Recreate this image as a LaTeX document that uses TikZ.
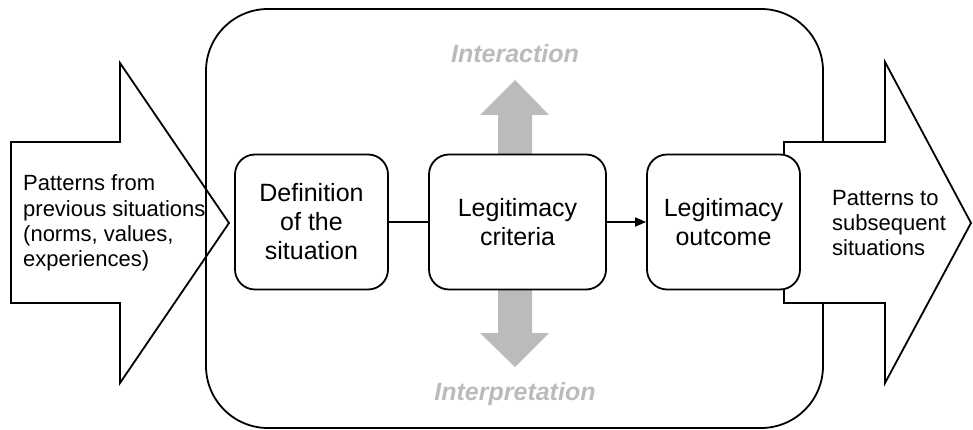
\documentclass[tikz,border=0pt]{standalone}
\usepackage{fontspec}
\setmainfont{Liberation Sans}
\usetikzlibrary{arrows.meta}
\definecolor{lightgray}{HTML}{BBBBBB}
\begin{document}
\begin{tikzpicture}[x=1pt,y=-1pt,
  outline/.style={draw=black,line width=1.8pt},
  stagebox/.style={outline,fill=white,rounded corners=20pt,align=center,
    font=\fontsize{25}{29}\selectfont,inner sep=0pt},
  sidetext/.style={align=left,font=\fontsize{22}{25.3}\selectfont,inner sep=0pt,anchor=west},
  graytext/.style={text=lightgray,font=\fontsize{25}{29}\selectfont\bfseries\itshape,inner sep=0pt,anchor=base},
  grayarrow/.style={fill=lightgray,draw=none}
]
\useasboundingbox (0,0) rectangle (973,430);
% incoming arrow
\draw[outline,fill=white] (11,142) -- (120,142) -- (120,63) -- (229,223) -- (120,383) -- (120,303) -- (11,303) -- cycle;
% frame
\draw[outline,rounded corners=62pt] (206,9) rectangle (823,428);
% outgoing arrow
\draw[outline,fill=white] (784,142) -- (885,142) -- (885,62) -- (971,223) -- (885,383) -- (885,303) -- (784,303) -- cycle;
% gray arrows
\fill[grayarrow] (498,160) -- (498,115) -- (480,115) -- (515,80) -- (549,115) -- (532,115) -- (532,160) -- cycle;
\fill[grayarrow] (498,284) -- (498,333) -- (480,333) -- (515,367) -- (549,333) -- (532,333) -- (532,284) -- cycle;
% boxes
\node[stagebox,minimum width=153pt,minimum height=135pt] (def) at (311.5,222) {Definition\\of the\\situation};
\node[stagebox,minimum width=177pt,minimum height=135pt] (crit) at (517.5,222) {Legitimacy\\criteria};
\node[stagebox,minimum width=153pt,minimum height=135pt] (out) at (723.5,222) {Legitimacy\\outcome};
\draw[outline] (def) -- (crit);
\draw[outline,-{Triangle[length=11pt,width=9pt]}] (crit) -- (out);
% texts
\node[sidetext] (intext) at (23,223) {Patterns from\\previous situations\\(norms, values,\\experiences)};
\node[sidetext] (outtext) at (832,223) {Patterns to\\subsequent\\situations};
\node[graytext] (interaction) at (515,63) {Interaction};
\node[graytext] (interpretation) at (515,400) {Interpretation};
\end{tikzpicture}
\end{document}
